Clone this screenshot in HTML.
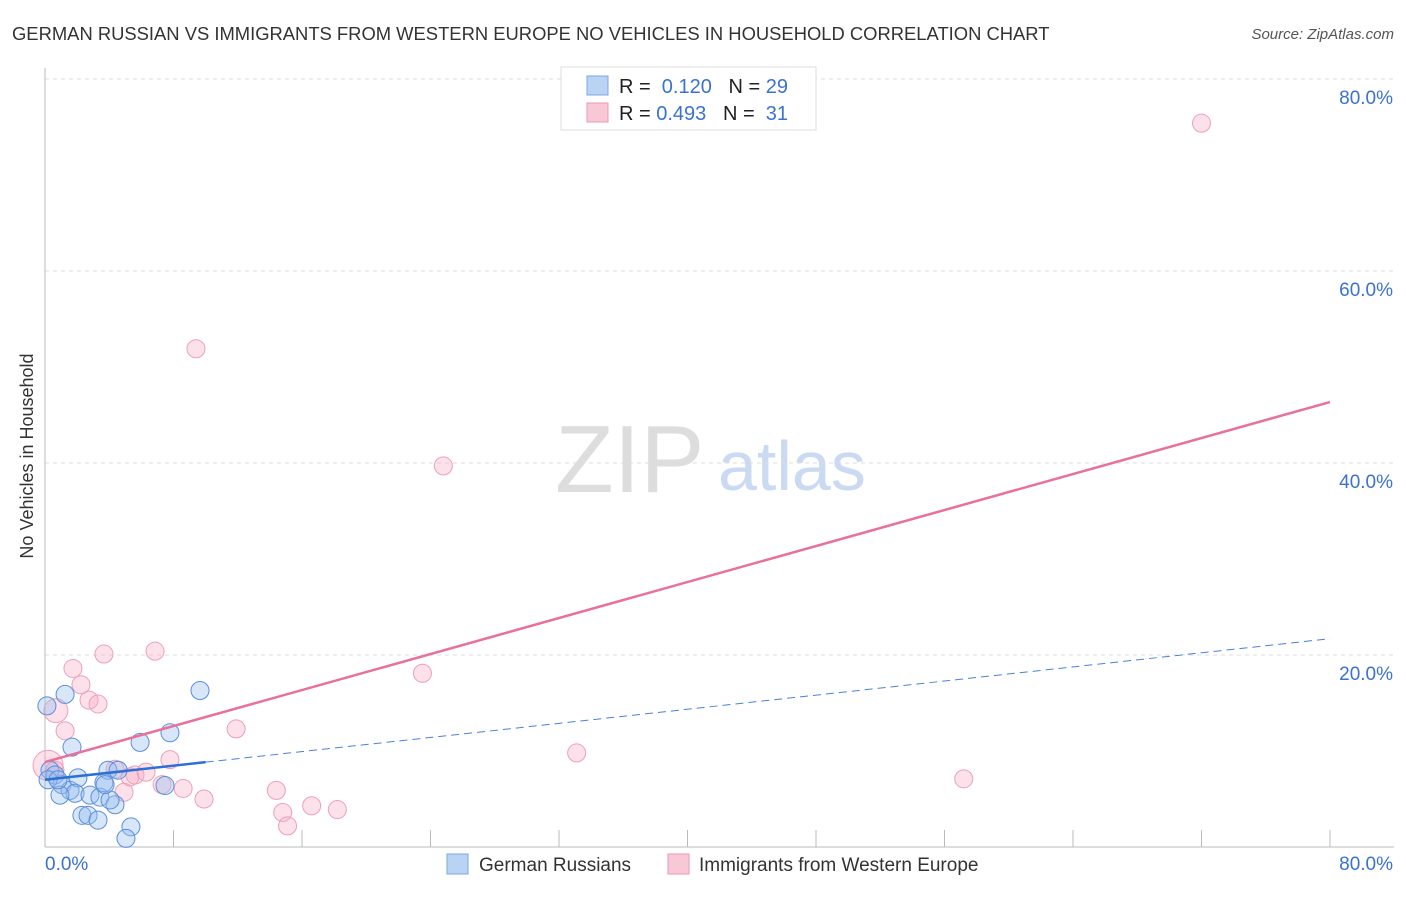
<!DOCTYPE html>
<html><head><meta charset="utf-8"><style>
body{margin:0;background:#fff;font-family:"Liberation Sans",sans-serif;}
svg text{font-family:"Liberation Sans",sans-serif;}
</style></head><body>
<svg id="chart" width="1406" height="892" xmlns="http://www.w3.org/2000/svg">
<text x="12" y="40" font-size="18.4" fill="#333">GERMAN RUSSIAN VS IMMIGRANTS FROM WESTERN EUROPE NO VEHICLES IN HOUSEHOLD CORRELATION CHART</text>
<text x="1394" y="39" font-size="15" fill="#555" font-style="italic" text-anchor="end">Source: ZipAtlas.com</text>
<text x="33" y="456" font-size="18" fill="#333" text-anchor="middle" transform="rotate(-90 33 456)">No Vehicles in Household</text>
<text x="555" y="492" font-size="96" fill="#ddd" font-family="Liberation Serif">ZIP</text>
<text x="718" y="490" font-size="70" fill="#c9daf2">atlas</text>
<g id="grid"></g><g id="marks"></g>
<g>
<rect x="561" y="67" width="255" height="63" fill="#fff" stroke="#ddd"/>
<rect x="587" y="76" width="21" height="19" fill="#b9d3f5" stroke="#7aa7e3"/>
<rect x="587" y="103" width="21" height="19" fill="#f9c8d6" stroke="#eb97b1"/>
<text x="619" y="93" font-size="20" fill="#222">R = <tspan fill="#3a72d0">&#160;0.120</tspan>&#160;&#160;&#160;N = <tspan fill="#3a72d0">29</tspan></text>
<text x="619" y="120" font-size="20" fill="#222">R = <tspan fill="#3a72d0">0.493</tspan>&#160;&#160;&#160;N = <tspan fill="#3a72d0">&#160;31</tspan></text>
</g>
<g>
<rect x="447" y="854" width="21" height="20" fill="#b9d3f5" stroke="#7aa7e3"/>
<text x="479" y="871" font-size="19" fill="#333">German Russians</text>
<rect x="668" y="854" width="21" height="20" fill="#f9c8d6" stroke="#eb97b1"/>
<text x="699" y="871" font-size="19" fill="#333">Immigrants from Western Europe</text>
</g>
</svg>
<script>
const blueX=[0.12,1.25,0.31,0.62,1.06,1.56,2.05,1.87,2.8,3.42,3.67,3.92,4.36,2.3,2.68,3.3,4.55,5.92,7.78,9.65,7.47,5.35,5.04,4.05,0.93,0.19,0.81,1.68,3.74];
const blueY=[14.7,15.9,8.0,7.5,6.5,5.9,7.2,5.6,5.4,5.2,6.7,8.0,4.4,3.3,3.3,2.8,8.0,10.9,11.9,16.3,6.4,2.1,0.9,4.9,5.4,7.0,7.0,10.4,6.5];
const pinkX=[72.0,9.4,24.8,23.5,33.1,57.2,11.9,3.67,6.85,1.74,2.24,2.74,3.3,1.25,0.68,0.19,4.36,5.6,6.29,7.78,7.29,8.6,9.9,4.92,14.4,14.8,15.1,16.6,18.2,5.29,0.62];
const pinkY=[75.4,51.9,39.7,18.1,9.8,7.1,12.3,20.1,20.4,18.6,16.9,15.3,14.9,12.1,14.2,8.5,8.1,7.5,7.8,9.1,6.5,6.1,5.0,5.7,5.9,3.6,2.2,4.3,3.9,7.3,8.0];
const yTicks=[20,40,60,80];
const xTickLabels=["0.0%","80.0%"];
const blueLine=[7.0,21.7], pinkLine=[8.85,46.35];
const NS="http://www.w3.org/2000/svg";
const sx=v=>45+v*16.0625, sy=v=>847-v*9.6;
function mk(t,a,p){const e=document.createElementNS(NS,t);for(const k in a)e.setAttribute(k,a[k]);p.appendChild(e);return e;}
const grid=document.getElementById('grid'),marks=document.getElementById('marks');
yTicks.forEach(v=>{
 const l=mk('line',{x1:45,x2:1394,y1:sy(v),y2:sy(v),stroke:'#ddd','stroke-dasharray':'4 4'},grid);
 
 
 const t=mk('text',{x:1393,y:sy(v)+25,'font-size':19,fill:'#3a72d0','text-anchor':'end'},grid);
 t.textContent=v.toFixed(1)+'%';
 
 
});
mk('line',{x1:45,x2:45,y1:68,y2:847,stroke:'#bbb'},grid);
mk('line',{x1:45,x2:1394,y1:847,y2:847,stroke:'#bbb'},grid);
for(let i=1;i<=10;i++){mk('line',{x1:sx(i*8),x2:sx(i*8),y1:830,y2:847,stroke:'#bbb'},grid);}
[[0,'start',45],[80,'end',1393]].forEach((d,i)=>{const t=mk('text',{x:d[2],y:870,'font-size':19,fill:'#3a72d0','text-anchor':d[1]},grid);t.textContent=xTickLabels[i];
 
 });
function pts(X,Y,f,s,name,big){X.forEach((x,i)=>{const c=mk('circle',{cx:sx(x),cy:sy(Y[i]),r:(big&&big[i])||9,fill:f,stroke:s,'stroke-width':1},marks);
 
 });}
const pinkBig={14:12,15:15};
pts(pinkX,pinkY,'rgba(246,170,195,0.35)','#eda0b8','pink-point',pinkBig);
pts(blueX,blueY,'rgba(150,190,240,0.38)','#5b8fdc','blue-point');
const pl=mk('line',{x1:sx(0),y1:sy(pinkLine[0]),x2:sx(80),y2:sy(pinkLine[1]),stroke:'#e8709a','stroke-width':2.5},marks);


const bAt=x=>blueLine[0]+(blueLine[1]-blueLine[0])*x/80;
const bl=mk('line',{x1:sx(0),y1:sy(bAt(0)),x2:sx(10),y2:sy(bAt(10)),stroke:'#2c6fd6','stroke-width':2.5},marks);


const bd=mk('line',{x1:sx(10),y1:sy(bAt(10)),x2:sx(80),y2:sy(bAt(80)),stroke:'#4a80d8','stroke-width':1,'stroke-dasharray':'8 5'},marks);


</script>
</body></html>
